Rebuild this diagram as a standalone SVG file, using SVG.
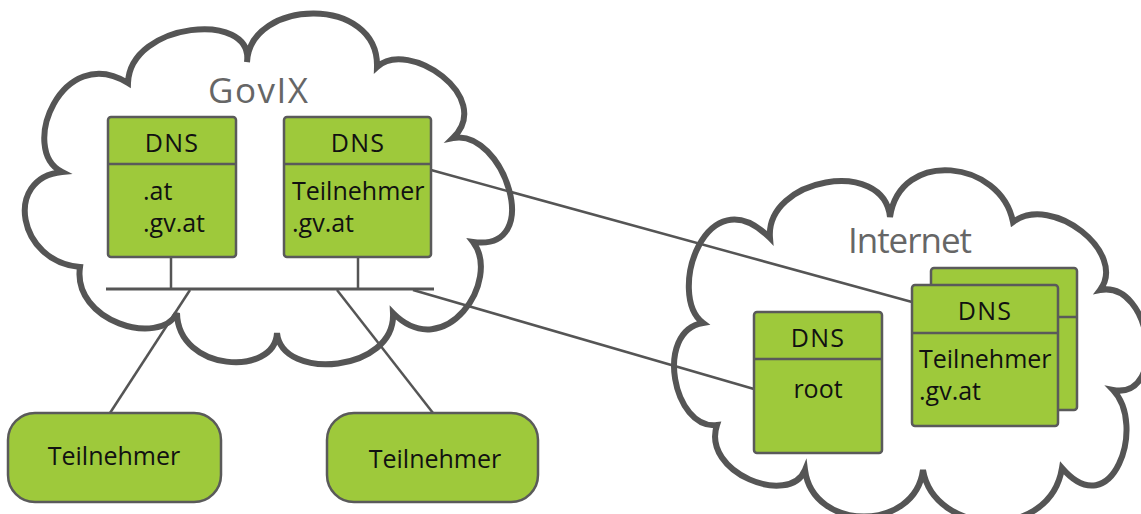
<svg xmlns="http://www.w3.org/2000/svg" width="1141" height="514" viewBox="0 0 1141 514">
<style>
.cloud{fill:#fff;stroke:#555;stroke-width:6;stroke-linejoin:miter}
.box{fill:#9ec93b;stroke:#5a5a5a;stroke-width:2.5}
.div{stroke:#5a5a5a;stroke-width:2.5}
.con{stroke:#555;stroke-width:2.5;fill:none}
.t{font-family:"Open Sans","DejaVu Sans",sans-serif;font-size:25px;fill:#111}
.dns{letter-spacing:1.2px}
.big{font-family:"Open Sans","DejaVu Sans",sans-serif;font-size:35px;fill:#666}
</style>
<g id="govix-cloud">
<path class="cloud" d="M128,83 C130,22 254,10 247,62 C250,-2 379,-5 377,67 C408,38 495,97 453,138 C503,128 546,252 473,242 C502,280 445,365 393,313 C396,372 282,382 277,333 C275,377 178,372 177,313 C160,347 72,322 80,267 C18,262 3,178 62,172 C18,150 62,42 128,83 Z"/>
<text class="big" x="208" y="103" textLength="100">GovIX</text>
</g>
<g id="internet-cloud">
<path class="cloud" d="M770,238 C765,178 884,157 890,217 C900,148 1001,160 1013,222 C1052,193 1128,253 1100,290 C1152,280 1168,400 1113,390 C1147,425 1112,526 1062,468 C1050,542 934,536 923,470 C915,532 813,532 805,470 C790,507 701,473 717,425 C673,430 654,331 703,323 C666,295 706,174 770,238 Z"/>
<text class="big" x="848" y="253" textLength="124">Internet</text>
</g>
<g id="connectors">
<line class="con" x1="106" y1="289" x2="434" y2="289" style="stroke-width:3"/>
<line class="con" x1="171" y1="257" x2="171" y2="289"/>
<line class="con" x1="358" y1="257" x2="358" y2="289"/>
<line class="con" x1="190" y1="290" x2="110" y2="413"/>
<line class="con" x1="337" y1="290" x2="433" y2="413"/>
<line class="con" x1="431" y1="170" x2="912" y2="302"/>
<line class="con" x1="413" y1="290" x2="754" y2="389"/>
</g>
<g id="dns-at">
<rect class="box" x="108" y="117" width="128" height="140" rx="3"/>
<line class="div" x1="108" y1="164" x2="236" y2="164"/>
<text class="t dns" x="172" y="152" text-anchor="middle">DNS</text>
<text class="t" x="143" y="200">.at</text>
<text class="t" x="143" y="232">.gv.at</text>
</g>
<g id="dns-teilnehmer-govix">
<rect class="box" x="284" y="117" width="147" height="140" rx="3"/>
<line class="div" x1="284" y1="164" x2="431" y2="164"/>
<text class="t dns" x="358" y="152" text-anchor="middle">DNS</text>
<text class="t" x="292" y="200">Teilnehmer</text>
<text class="t" x="292" y="232">.gv.at</text>
</g>
<g id="dns-root">
<rect class="box" x="754" y="312" width="128" height="141" rx="3"/>
<line class="div" x1="754" y1="359" x2="882" y2="359"/>
<text class="t dns" x="818" y="347" text-anchor="middle">DNS</text>
<text class="t" x="818" y="398" text-anchor="middle">root</text>
</g>
<g id="dns-teilnehmer-internet">
<rect class="box" x="931" y="268" width="146" height="142" rx="3"/>
<line class="div" x1="1058" y1="317" x2="1077" y2="317"/>
<rect class="box" x="912" y="285" width="146" height="141" rx="3"/>
<line class="div" x1="912" y1="333" x2="1058" y2="333"/>
<text class="t dns" x="985" y="320" text-anchor="middle">DNS</text>
<text class="t" x="919" y="368">Teilnehmer</text>
<text class="t" x="919" y="400">.gv.at</text>
</g>
<g id="teilnehmer-1">
<rect class="box" x="8" y="413" width="213" height="89" rx="27"/>
<text class="t" x="114" y="465" text-anchor="middle">Teilnehmer</text>
</g>
<g id="teilnehmer-2">
<rect class="box" x="327" y="413" width="211" height="89" rx="27"/>
<text class="t" x="435" y="468" text-anchor="middle">Teilnehmer</text>
</g>
</svg>
